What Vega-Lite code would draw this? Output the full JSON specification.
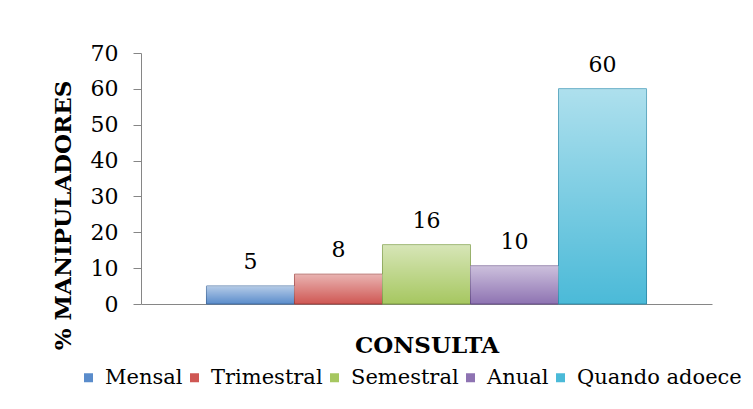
{
  "$schema": "https://vega.github.io/schema/vega-lite/v6.json",
  "autosize": {"type": "none"},
  "width": 571,
  "height": 251,
  "padding": {"left": 141, "top": 53, "right": 41, "bottom": 105},
  "background": "white",
  "config": {
    "view": {"stroke": null},
    "font": "DejaVu Serif",
    "axis": {"labelFont": "DejaVu Serif", "titleFont": "DejaVu Serif", "domainColor": "#868686", "tickColor": "#868686", "labelColor": "black", "titleColor": "black"},
    "legend": {"labelFont": "DejaVu Serif", "padding": 0}
  },
  "data": {
    "values": [
      {"periodicidade": "Mensal", "valor": 5, "rotulo": "5"},
      {"periodicidade": "Trimestral", "valor": 8.3, "rotulo": "8"},
      {"periodicidade": "Semestral", "valor": 16.5, "rotulo": "16"},
      {"periodicidade": "Anual", "valor": 10.6, "rotulo": "10"},
      {"periodicidade": "Quando adoece", "valor": 60, "rotulo": "60"}
    ]
  },
  "encoding": {
    "x": {
      "field": "periodicidade",
      "type": "nominal",
      "sort": ["Mensal", "Trimestral", "Semestral", "Anual", "Quando adoece"],
      "scale": {"paddingInner": 0, "paddingOuter": 0.744},
      "axis": {
        "title": "CONSULTA",
        "labels": false,
        "ticks": false,
        "titleFontSize": 23,
        "titleFontWeight": "bold",
        "titleBaseline": "alphabetic",
        "titleX": 285.5,
        "titleY": 48,
        "titleAlign": "center"
      }
    },
    "y": {
      "field": "valor",
      "type": "quantitative",
      "scale": {"domain": [0, 70], "nice": false},
      "axis": {
        "title": "% MANIPULADORES",
        "values": [0, 10, 20, 30, 40, 50, 60, 70],
        "grid": false,
        "tickSize": 8,
        "labelPadding": 15,
        "labelFontSize": 22,
        "titleFontSize": 23,
        "titleFontWeight": "bold",
        "titleAngle": -90,
        "titleBaseline": "alphabetic",
        "titleAlign": "center",
        "titleX": -71,
        "titleY": 162
      }
    }
  },
  "layer": [
    {
      "mark": {"type": "bar", "strokeWidth": 1},
      "encoding": {
        "color": {
          "field": "periodicidade",
          "type": "nominal",
          "sort": ["Mensal", "Trimestral", "Semestral", "Anual", "Quando adoece"],
          "scale": {"range": ["#5a8ccb", "#cf5753", "#a6c760", "#8e73b2", "#4bbad8"]},
          "legend": {
            "title": null,
            "orient": "none",
            "direction": "horizontal",
            "legendX": -63,
            "legendY": 314,
            "symbolType": "square",
            "symbolSize": 81,
            "symbolStrokeWidth": 0,
            "labelFontSize": 21,
            "labelOffset": 6,
            "columnPadding": 1,
            "labelLimit": 300
          }
        },
        "stroke": {
          "field": "periodicidade",
          "type": "nominal",
          "sort": ["Mensal", "Trimestral", "Semestral", "Anual", "Quando adoece"],
          "scale": {"range": ["#3f6aa0", "#9e3d3a", "#7a9a40", "#654c88", "#2f8fae"]},
          "legend": null
        }
      }
    },
    {
      "mark": {
        "type": "bar",
        "color": {
          "gradient": "linear",
          "x1": 0, "y1": 0, "x2": 0, "y2": 1,
          "stops": [
            {"offset": 0, "color": "rgba(255,255,255,0.55)"},
            {"offset": 1, "color": "rgba(255,255,255,0)"}
          ]
        }
      },
      "encoding": {}
    },
    {
      "mark": {"type": "text", "baseline": "alphabetic", "dy": -17, "fontSize": 22, "font": "DejaVu Serif", "color": "black"},
      "encoding": {"text": {"field": "rotulo"}}
    }
  ]
}
